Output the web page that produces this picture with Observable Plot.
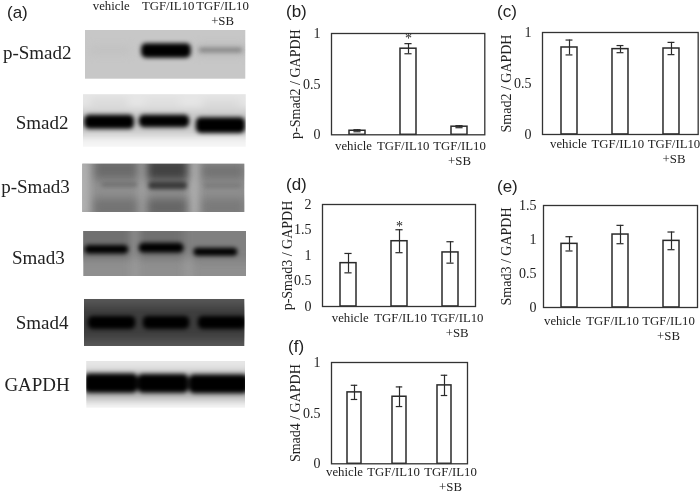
<!DOCTYPE html>
<html><head><meta charset="utf-8">
<script src="https://cdn.jsdelivr.net/npm/d3@7"></script>
<script src="https://cdn.jsdelivr.net/npm/@observablehq/plot@0.6"></script>
<style>
html,body{margin:0;padding:0;background:#fff;width:700px;height:492px;overflow:hidden}
body{filter:blur(0.3px)}
.p{position:absolute;will-change:transform}
.p svg{overflow:visible;background:transparent}
.tag{position:absolute;font:17px "Liberation Sans",sans-serif;color:#222;line-height:1;will-change:transform}
</style></head><body>
<script>
// ---------- bar chart data ----------
const categories = ["vehicle", "TGF/IL10", "TGF/IL10\n+SB"];
const pSmad2Mean = [0.04, 0.85, 0.08], pSmad2Err = [0.01, 0.05, 0.01];
const smad2Mean  = [0.853, 0.837, 0.843], smad2Err = [0.073, 0.035, 0.06];
const pSmad3Mean = [0.85, 1.28, 1.06], pSmad3Err = [0.19, 0.225, 0.21];
const smad3Mean  = [0.936, 1.073, 0.98], smad3Err = [0.105, 0.135, 0.13];
const smad4Mean  = [0.705, 0.662, 0.774], smad4Err = [0.07, 0.097, 0.1];
const starAt = ["TGF/IL10"];

// ---------- blot data: [lane from, lane to, depth from, depth to, density] ----------
const laneNames = ["vehicle", "TGF/IL10", "TGF/IL10\n+SB"];
const pSmad2Gel = 0.22;
const pSmad2Soft = [[0.1,0.85,0.36,0.48,0.25],[2.1,3.0,0.32,0.5,0.3]];
const pSmad2Sharp = [[1.05,1.98,0.27,0.57,1],[2.13,2.94,0.375,0.445,0.52]];
const smad2Gel = 0.04;
const smad2Soft = [[-0.2,3.2,-0.2,0.3,0.1],[-0.2,3.2,0.3,0.8,0.22],[0.13,0.83,0.11,0.2,0.18],[1.14,1.79,0.11,0.2,0.15],[2.2,2.9,0.13,0.22,0.18]];
const smad2Sharp = [[0.02,0.94,0.39,0.66,1],[1.03,1.96,0.39,0.63,1],[2.08,2.99,0.44,0.74,1]];
const pSmad3Gel = 0.44;
const pSmad3Soft = [[0.22,1.05,-0.1,0.32,0.58],[1.2,1.96,-0.1,0.34,0.74],[2.2,3.0,0.0,0.32,0.55],[0.2,1.05,0.72,1.1,0.55],[1.2,1.95,0.72,1.1,0.6],[2.2,3.0,0.72,1.1,0.52],[-0.1,0.14,-0.1,1.1,0.3],[1.04,1.17,-0.1,1.1,0.36],[2.0,2.14,-0.1,1.1,0.28]];
const pSmad3Sharp = [[1.22,1.94,0.37,0.53,0.78],[0.35,1.02,0.38,0.48,0.56],[2.25,2.95,0.4,0.5,0.52]];
const smad3Gel = 0.44;
const smad3Soft = [[-0.2,1.85,-0.3,0.6,0.56],[1.85,3.2,-0.3,0.68,0.5],[0.9,1.0,-0.2,1.2,0.38],[1.88,2.0,0.55,1.2,0.38]];
const smad3Sharp = [[0.02,0.83,0.31,0.5,1],[1.02,1.85,0.26,0.48,1],[2.03,2.84,0.37,0.55,1]];
const smad4Gel = 0.66;
const smad4Soft = [[-0.2,3.2,0.15,0.85,0.76]];
const smad4Sharp = [[0.07,0.96,0.36,0.64,1],[1.1,1.97,0.36,0.64,1],[2.13,3.04,0.36,0.64,1]];
const gapdhGel = 0.04;
const gapdhSoft = [[-0.2,3.2,-0.2,0.2,0.1],[-0.2,3.2,0.22,0.84,0.32]];
const gapdhSharp = [[-0.04,0.97,0.27,0.68,1],[0.97,1.93,0.28,0.68,1],[1.94,3.06,0.29,0.69,1]];

const serif = '"Liberation Serif","Times New Roman",serif';
const ink = "#222";
const row = ([x1,x2,y1,y2,density]) => ({x1,x2,y1,y2,density});

function place(svg, left, top) {
  const d = document.createElement("div");
  d.className = "p"; d.style.left = left + "px"; d.style.top = top + "px";
  d.appendChild(svg); document.body.appendChild(d);
}
function tag(text, left, baseline) {
  const d = document.createElement("div");
  d.className = "tag"; d.textContent = text;
  d.style.left = left + "px"; d.style.top = (baseline - 14) + "px";
  document.body.appendChild(d);
}

function blot({name, gel, soft, sharp, box, labelDx, labelDepth, header}) {
  const [l, r, t, b] = box;
  const marks = [
    Plot.rect([row([0,3,0,1,gel])], {x1:"x1",x2:"x2",y1:"y1",y2:"y2",fill:"density"}),
    Plot.rect(soft.map(row), {x1:"x1",x2:"x2",y1:"y1",y2:"y2",fill:"density",imageFilter:"blur(4.5px)",clip:"frame"}),
    Plot.rect(sharp.map(row), {x1:"x1",x2:"x2",y1:"y1",y2:"y2",fill:"density",r:5,imageFilter:"blur(2px)",clip:"frame"}),
    Plot.text([name], {y:labelDepth, frameAnchor:"left", textAnchor:"end", dx:-labelDx, fontSize:19, fill:ink})
  ];
  if (header) {
    const offs = [-1, 2.5, 3.5];
    laneNames.forEach((n,i) => marks.push(
      Plot.text([n], {x:i+0.5, frameAnchor:"top", lineAnchor:"top", dx:offs[i], dy:-31, fontSize:12.8, lineHeight:1.17, fill:ink})
    ));
  }
  const svg = Plot.plot({
    width:r, height:b, marginLeft:l, marginRight:0, marginTop:t, marginBottom:0,
    x:{domain:[0,3], axis:null}, y:{domain:[1,0], axis:null},
    color:{type:"linear", domain:[0,1], range:["#ffffff","#000000"]},
    style:{fontFamily:serif, background:"transparent"},
    marks
  });
  place(svg, 0, 0);
}

function panel({mean, err, yMax, yTicks, yLabel, box, labelOffset, tickPad, dxs, dyBase, barFrac, star}) {
  const [l, r, t, b] = box;
  const ml = 50;
  const rows = categories.map((c,i) => ({c, v:mean[i], lo:mean[i]-err[i], hi:mean[i]+err[i]}));
  const capInset = (r-l)/3*barFrac/2 - 3.5;
  const marks = [
    Plot.axisY({ticks:yTicks, tickFormat:d=>String(d), tickSize:0, tickPadding:tickPad, fontSize:14, label:yLabel, labelAnchor:"center", labelArrow:"none", labelOffset, color:ink}),
    Plot.barY(rows, {x:"c", y:"v", fill:"#fff", stroke:"#2a2a2a", strokeWidth:1.5}),
    Plot.ruleX(rows, {x:"c", y1:"lo", y2:"hi", stroke:"#2a2a2a", strokeWidth:1.2}),
    Plot.tickY(rows, {x:"c", y:"lo", stroke:"#2a2a2a", strokeWidth:1.2, insetLeft:capInset, insetRight:capInset}),
    Plot.tickY(rows, {x:"c", y:"hi", stroke:"#2a2a2a", strokeWidth:1.2, insetLeft:capInset, insetRight:capInset}),
    Plot.frame({stroke:"#333", strokeWidth:1.3})
  ];
  if (star != null) marks.push(Plot.text(rows.filter(d=>starAt.includes(d.c)), {x:"c", y:star, text:()=>"*", fontSize:14, fill:ink, dy:2}));
  rows.forEach((d,i) => marks.push(
    Plot.text([d], {x:"c", text:"c", frameAnchor:"bottom", lineAnchor:"top", dx:dxs[i], dy:dyBase, fontSize:12.8, lineHeight:1.17, fill:ink})
  ));
  const svg = Plot.plot({
    width:(r-l)+ml+2, height:(b-t)+8, marginLeft:ml, marginRight:2, marginTop:4, marginBottom:4,
    x:{type:"band", domain:categories, paddingInner:1-barFrac, paddingOuter:(1-barFrac)/2, align:0.5, axis:null},
    y:{domain:[0,yMax], axis:null},
    style:{fontFamily:serif, background:"transparent", fontSize:"12.8px"},
    marks
  });
  place(svg, l-ml, t-4);
}

blot({name:"p-Smad2", gel:pSmad2Gel, soft:pSmad2Soft, sharp:pSmad2Sharp, box:[85,245.3,30,78.7], labelDx:14, labelDepth:0.46, header:true});
blot({name:"Smad2", gel:smad2Gel, soft:smad2Soft, sharp:smad2Sharp, box:[83,245.7,94.3,146.7], labelDx:15, labelDepth:0.54});
blot({name:"p-Smad3", gel:pSmad3Gel, soft:pSmad3Soft, sharp:pSmad3Sharp, box:[82.3,244.3,163.7,212], labelDx:13, labelDepth:0.48});
blot({name:"Smad3", gel:smad3Gel, soft:smad3Soft, sharp:smad3Sharp, box:[83.3,246,231,276], labelDx:19, labelDepth:0.59});
blot({name:"Smad4", gel:smad4Gel, soft:smad4Soft, sharp:smad4Sharp, box:[84,244.3,299,346], labelDx:16, labelDepth:0.5});
blot({name:"GAPDH", gel:gapdhGel, soft:gapdhSoft, sharp:gapdhSharp, box:[86.3,245,361,407.7], labelDx:17, labelDepth:0.5});

panel({mean:pSmad2Mean, err:pSmad2Err, yMax:1, yTicks:[0,0.5,1], yLabel:"p-Smad2 / GAPDH", box:[330.7,484,32.7,134], labelOffset:41, tickPad:11, dxs:[-4,-5.3,0], dyBase:4.5, barFrac:0.31, star:0.97});
panel({mean:smad2Mean, err:smad2Err, yMax:1, yTicks:[0,0.5,1], yLabel:"Smad2 / GAPDH", box:[542.3,698,32,134], labelOffset:41, tickPad:11, dxs:[-1,-2.7,2.5], dyBase:3, barFrac:0.31});
panel({mean:pSmad3Mean, err:pSmad3Err, yMax:2, yTicks:[0,0.5,1,1.5,2], yLabel:"p-Smad3 / GAPDH", box:[322,475,204,306], labelOffset:40, tickPad:11, dxs:[1.7,1,6.7], dyBase:4.5, barFrac:0.31, star:1.61});
panel({mean:smad3Mean, err:smad3Err, yMax:1.5, yTicks:[0,0.5,1,1.5], yLabel:"Smad3 / GAPDH", box:[543,697,205,307], labelOffset:42, tickPad:7, dxs:[-7,-8,-3], dyBase:6.5, barFrac:0.31});
panel({mean:smad4Mean, err:smad4Err, yMax:1, yTicks:[0,0.5,1], yLabel:"Smad4 / GAPDH", box:[331,467,361.7,463], labelOffset:41, tickPad:11, dxs:[-10,-6,6], dyBase:1.5, barFrac:0.32});

tag("(a)", 7, 18); tag("(b)", 286, 17); tag("(c)", 497, 17);
tag("(d)", 286, 190); tag("(e)", 497, 192); tag("(f)", 288, 352);
</script>
</body></html>
